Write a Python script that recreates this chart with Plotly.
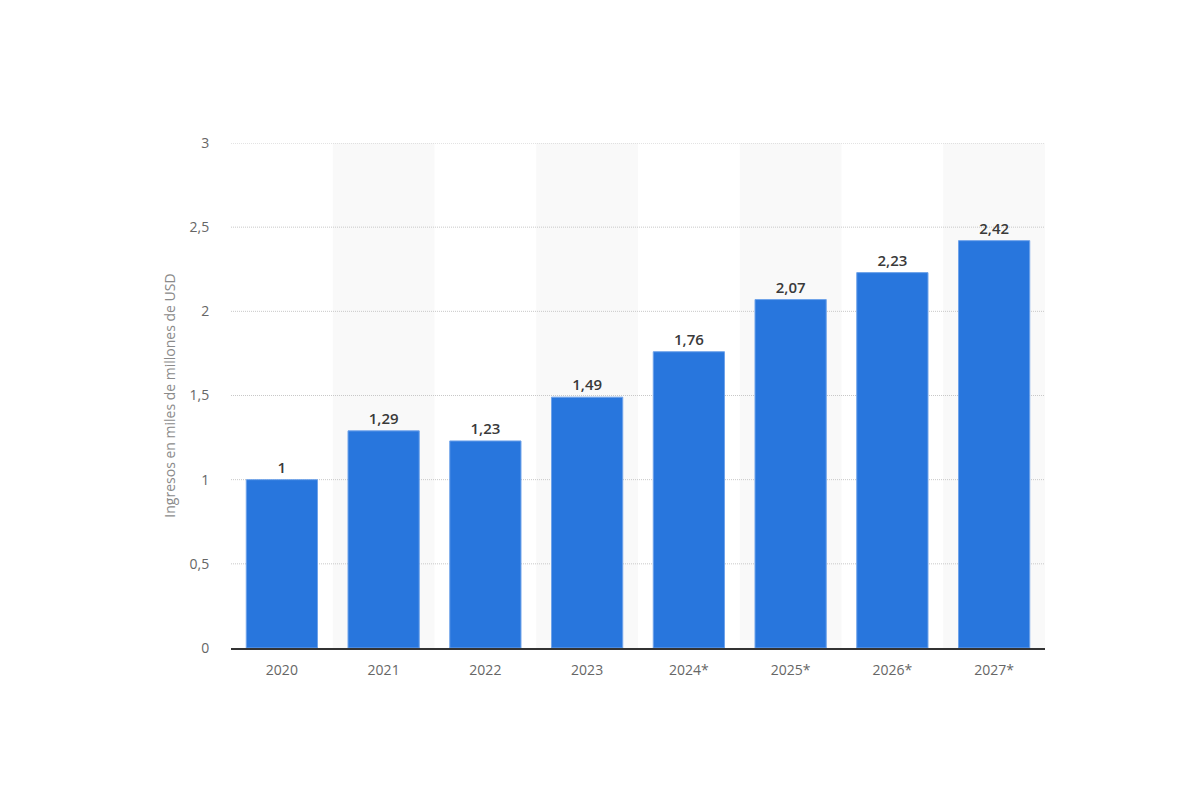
import plotly.graph_objects as go

years = ["2020", "2021", "2022", "2023", "2024*", "2025*", "2026*", "2027*"]
revenue = [1, 1.29, 1.23, 1.49, 1.76, 2.07, 2.23, 2.42]
y_ticks = [0, 0.5, 1, 1.5, 2, 2.5, 3]

fig = go.Figure()
fig.add_trace(go.Bar(
    x=years, y=revenue,
    marker=dict(color="#2876dd", line=dict(color="#6fa3ea", width=1)),
    width=0.7,
    texttemplate="%{y}", textposition="outside", cliponaxis=False,
    textfont=dict(family="Open Sans", size=15, color="#3a3a3a", weight=600),
    hoverinfo="skip",
))

shapes = []
for i in range(len(years)):
    if i % 2 == 1:
        shapes.append(dict(type="rect", xref="x", yref="paper", x0=i - 0.5, x1=i + 0.5,
                           y0=0, y1=1, fillcolor="#f9f9f9", line=dict(width=0), layer="below"))
for t in y_ticks[1:]:
    shapes.append(dict(type="line", xref="paper", yref="y", x0=0, x1=1, y0=t, y1=t,
                       line=dict(color="#c8c8c8", width=1, dash="1px,1px"), layer="below"))

fig.update_layout(
    width=1200, height=800,
    margin=dict(l=223, r=163, t=135, b=160, autoexpand=False),
    paper_bgcolor="white", plot_bgcolor="white",
    separators=", ",
    shapes=shapes,
    showlegend=False,
    font=dict(family="Open Sans", color="#666666", size=14),
    xaxis=dict(showgrid=False, showline=True, linecolor="#333333", linewidth=1.5,
               ticks="outside", ticklen=8, tickcolor="rgba(0,0,0,0)", automargin=False,
               tickfont=dict(size=14, color="#666666"), range=[-0.5, 7.5]),
    yaxis=dict(range=[0, 3], tickvals=y_ticks, showgrid=False, zeroline=False, showline=False,
               automargin=False,
               ticks="outside", ticklen=18, tickcolor="rgba(0,0,0,0)",
               tickfont=dict(size=14, color="#666666"),
               title=dict(text="Ingresos en miles de millones de USD", font=dict(size=14, color="#8a8a8a"), standoff=10)),
)
fig.write_html("out.html")
